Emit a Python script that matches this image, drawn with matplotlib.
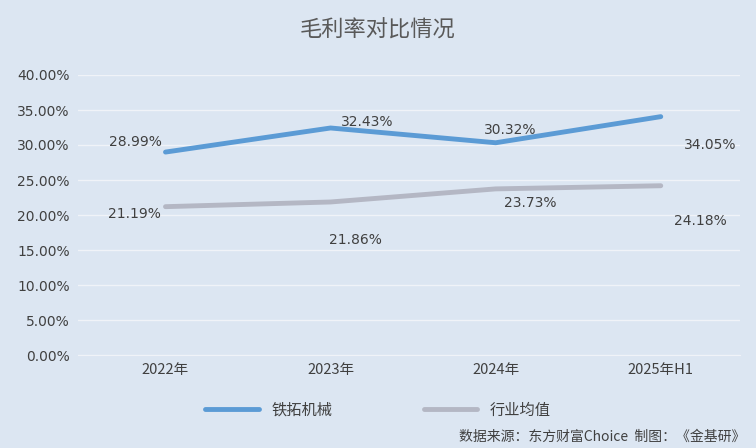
import matplotlib
matplotlib.use("Agg")
import matplotlib.pyplot as plt

plt.rcParams['font.family'] = ['Noto Sans CJK SC', 'DejaVu Sans']

categories = ["2022年", "2023年", "2024年", "2025年H1"]
company = [28.99, 32.43, 30.32, 34.05]
industry = [21.19, 21.86, 23.73, 24.18]
series_names = ["铁拓机械", "行业均值"]
yticks = [0, 5, 10, 15, 20, 25, 30, 35, 40]

bg = "#dce6f2"
fig = plt.figure(figsize=(7.56, 4.48), dpi=100, facecolor=bg)
ax = fig.add_axes([78/756, 1-355/448, 662/756, 280/448], facecolor=bg)
x = list(range(len(categories)))
ax.plot(x, company, color="#5b9bd5", lw=3.5, solid_capstyle="round", label=series_names[0])
ax.plot(x, industry, color="#b4b7c4", lw=3.5, solid_capstyle="round", label=series_names[1])
ax.set_xlim(-0.53, 3.48)
ax.set_ylim(0, 40)
ax.set_yticks(yticks)
ax.set_yticklabels([f"{v:.2f}%" for v in yticks], fontsize=10, color="#404040", family="DejaVu Sans")
ax.set_xticks(x)
ax.set_xticklabels(categories, fontsize=10.5, color="#404040")
ax.grid(axis="y", color="#f0f3f8", lw=1)
ax.tick_params(length=0, pad=6)
for s in ax.spines.values():
    s.set_visible(False)
ax.spines['bottom'].set_visible(True)
ax.spines['bottom'].set_color("#f0f3f8")

c_off = [(-0.18, 1.4), (0.22, 0.9), (0.09, 1.8), (0.3, -4.1)]
i_off = [(-0.19, -1.1), (0.15, -5.4), (0.21, -2.0), (0.24, -5.1)]
for i in x:
    ax.text(i + c_off[i][0], company[i] + c_off[i][1], f"{company[i]:.2f}%", ha="center", va="center", fontsize=10, color="#404040", family="DejaVu Sans")
    ax.text(i + i_off[i][0], industry[i] + i_off[i][1], f"{industry[i]:.2f}%", ha="center", va="center", fontsize=10, color="#404040", family="DejaVu Sans")

fig.text(378/756, 1-30/448, "毛利率对比情况", ha="center", va="center", fontsize=16, color="#595959")
fig.legend(loc="center", bbox_to_anchor=(378/756, 1-410/448), ncol=2, frameon=False, fontsize=11,
           handlelength=3.5, columnspacing=6, labelcolor="#404040")
fig.text(745/756, 1-437/448, "数据来源：东方财富Choice  制图：《金基研》", ha="right", va="center", fontsize=10, color="#404040")
fig.savefig("out.png", dpi=100, facecolor=bg)
